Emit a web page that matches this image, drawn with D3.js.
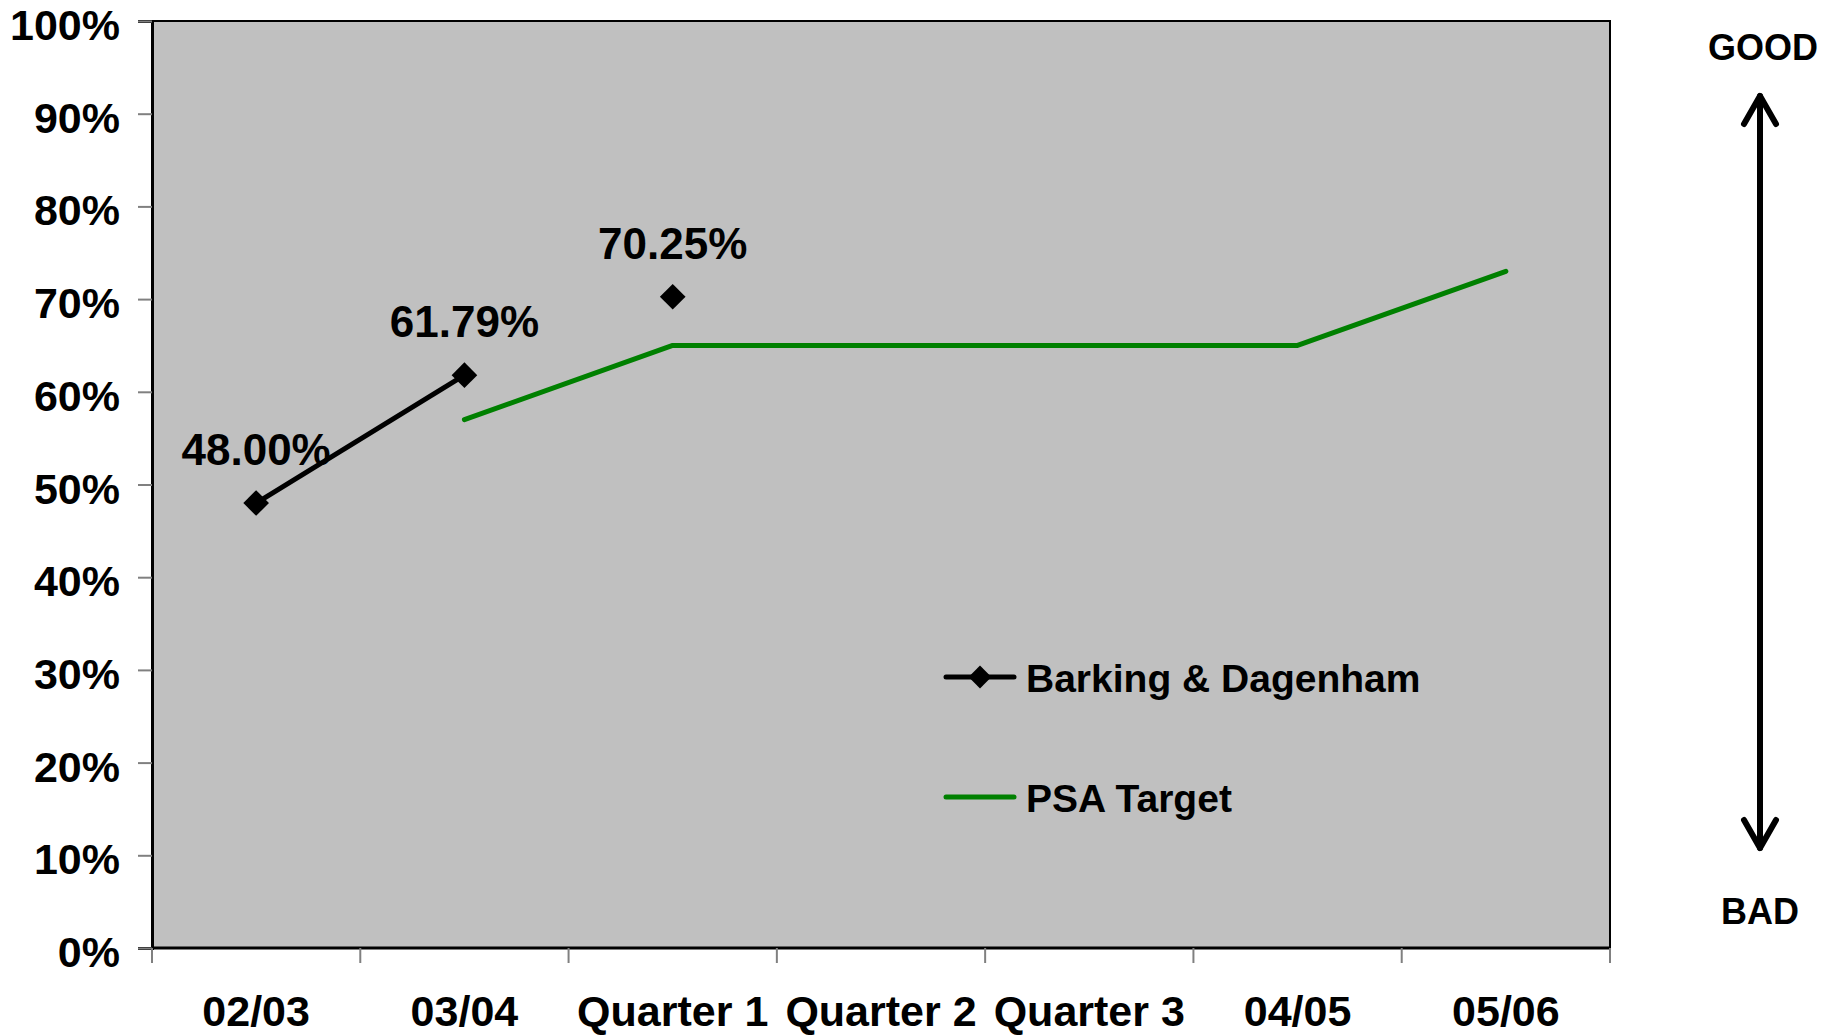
<!DOCTYPE html>
<html>
<head>
<meta charset="utf-8">
<script src="https://cdn.jsdelivr.net/npm/d3@7"></script>
<style>
  body { margin: 0; background: #fff; }
  text { font-family: Arial, "Liberation Sans", sans-serif; font-weight: bold; fill: #000; }
</style>
</head>
<body>
<div id="chart"></div>
<script>
var categories = ['02/03', '03/04', 'Quarter 1', 'Quarter 2', 'Quarter 3', '04/05', '05/06'];
var barking = [48.00, 61.79, 70.25, null, null, null, null];
var barkingLabels = ['48.00%', '61.79%', '70.25%'];
// only the first two points are joined by a line
var barkingJoined = 2;
var psaTarget = [null, 57, 65, 65, 65, 65, 73];
var yTicks = [0, 10, 20, 30, 40, 50, 60, 70, 80, 90, 100];

var w = 1836,
  h = 1036;
var m = {left: 152, right: 226, top: 21, bottom: 88};

var svg = d3.select('#chart')
  .append('svg')
  .attr('width', w)
  .attr('height', h);

var x = d3.scaleBand()
  .domain(categories)
  .range([m.left, w - m.right]);

var y = d3.scaleLinear()
  .domain([0, 100])
  .range([h - m.bottom, m.top]);

////////////////////////
// Plot area
////////////////////////
svg.append('rect')
  .attr('x', m.left)
  .attr('y', m.top)
  .attr('width', w - m.left - m.right)
  .attr('height', h - m.top - m.bottom)
  .style('fill', '#c0c0c0')
  .style('stroke', '#000')
  .style('stroke-width', 2);

// y axis
var yAxis = svg.append('g')
  .attr('transform', 'translate(' + m.left + ',0)')
  .call(d3.axisLeft(y).tickValues(yTicks).tickSize(14).tickPadding(18)
    .tickFormat(function(d) { return d + '%'; }));
yAxis.select('.domain').style('stroke', '#000').style('stroke-width', 3);
yAxis.selectAll('.tick line').style('stroke', '#808080').style('stroke-width', 2);
yAxis.selectAll('.tick text')
  .style('font-size', '43px')
  .attr('dy', '0.43em');

// x axis: ticks between categories
var xAxis = svg.append('g')
  .attr('transform', 'translate(0,' + (h - m.bottom) + ')');
xAxis.append('line')
  .attr('x1', m.left).attr('x2', w - m.right)
  .style('stroke', '#000').style('stroke-width', 3);
var boundaries = categories.map(function(c) { return x(c); }).concat([x.range()[1]]);
xAxis.selectAll('.xtick')
  .data(boundaries)
  .enter().append('line')
  .attr('x1', function(d) { return d; })
  .attr('x2', function(d) { return d; })
  .attr('y1', 0).attr('y2', 15)
  .style('stroke', '#808080').style('stroke-width', 2);
xAxis.selectAll('.xlabel')
  .data(categories)
  .enter().append('text')
  .attr('x', function(d) { return x(d) + x.bandwidth() / 2; })
  .attr('y', 78)
  .attr('text-anchor', 'middle')
  .style('font-size', '43px')
  .text(function(d) { return d; });

////////////////////////
// Series
////////////////////////
var cx = function(i) { return x(categories[i]) + x.bandwidth() / 2; };

var line = d3.line()
  .defined(function(d) { return d != null; })
  .x(function(d, i) { return cx(i); })
  .y(function(d) { return y(d); });

svg.append('path')
  .datum(psaTarget)
  .attr('d', line)
  .style('fill', 'none')
  .style('stroke', '#008000')
  .style('stroke-width', 5)
  .style('stroke-linecap', 'round')
  .style('stroke-linejoin', 'round');

svg.append('path')
  .datum(barking.slice(0, barkingJoined))
  .attr('d', line)
  .style('fill', 'none')
  .style('stroke', '#000')
  .style('stroke-width', 5);

var diamond = d3.symbol().type(d3.symbolDiamond2).size(420);
var pts = barking.map(function(d, i) { return {v: d, i: i}; })
  .filter(function(d) { return d.v != null; });

svg.selectAll('.marker')
  .data(pts)
  .enter().append('path')
  .attr('d', diamond)
  .attr('transform', function(d) { return 'translate(' + cx(d.i) + ',' + y(d.v) + ')'; })
  .style('fill', '#000');

svg.selectAll('.dlabel')
  .data(pts)
  .enter().append('text')
  .attr('x', function(d) { return cx(d.i); })
  .attr('y', function(d) { return y(d.v) - 38; })
  .attr('text-anchor', 'middle')
  .style('font-size', '44px')
  .text(function(d) { return barkingLabels[d.i]; });

////////////////////////
// Legend
////////////////////////
var lg = svg.append('g').attr('transform', 'translate(946,0)');
lg.append('line')
  .attr('x1', 0).attr('x2', 68).attr('y1', 677).attr('y2', 677)
  .style('stroke', '#000').style('stroke-width', 5).style('stroke-linecap', 'round');
lg.append('path')
  .attr('d', d3.symbol().type(d3.symbolDiamond2).size(330))
  .attr('transform', 'translate(34,677)')
  .style('fill', '#000');
lg.append('text')
  .attr('x', 80).attr('y', 692)
  .style('font-size', '39px')
  .text('Barking & Dagenham');
lg.append('line')
  .attr('x1', 0).attr('x2', 68).attr('y1', 797).attr('y2', 797)
  .style('stroke', '#008000').style('stroke-width', 5).style('stroke-linecap', 'round');
lg.append('text')
  .attr('x', 80).attr('y', 812)
  .style('font-size', '39px')
  .text('PSA Target');

////////////////////////
// Good / bad arrow
////////////////////////
var ax = 1760;
var ag = svg.append('g')
  .style('stroke', '#000')
  .style('stroke-width', 6)
  .style('fill', 'none')
  .style('stroke-linecap', 'round')
  .style('stroke-linejoin', 'round');
ag.append('line').attr('x1', ax).attr('x2', ax).attr('y1', 96).attr('y2', 848);
ag.append('path').attr('d', 'M' + (ax - 16) + ',124L' + ax + ',96L' + (ax + 16) + ',124');
ag.append('path').attr('d', 'M' + (ax - 16) + ',820L' + ax + ',848L' + (ax + 16) + ',820');

svg.append('text')
  .attr('x', ax + 3).attr('y', 60)
  .attr('text-anchor', 'middle')
  .style('font-size', '36px')
  .text('GOOD');
svg.append('text')
  .attr('x', ax).attr('y', 924)
  .attr('text-anchor', 'middle')
  .style('font-size', '36px')
  .text('BAD');
</script>
</body>
</html>
